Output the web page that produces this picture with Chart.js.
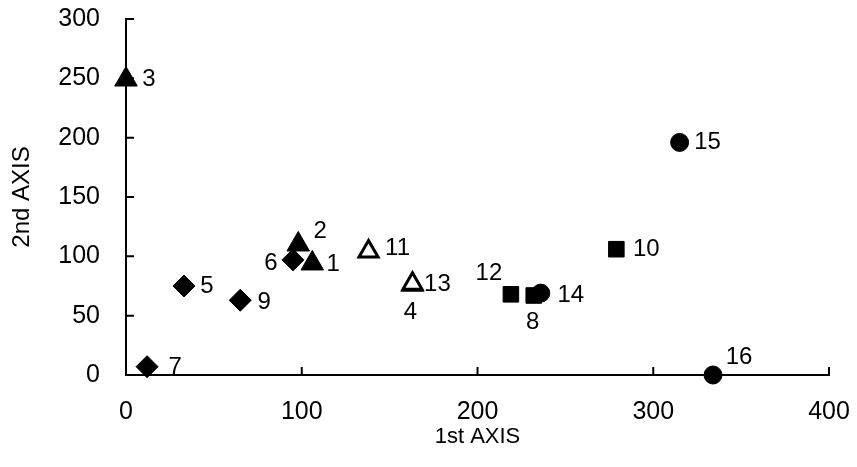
<!DOCTYPE html>
<html>
<head>
<meta charset="utf-8">
<script src="https://cdn.jsdelivr.net/npm/chart.js@4/dist/chart.umd.min.js"></script>
<style>
  html, body { margin: 0; padding: 0; background: #fff; }
  #wrap { width: 857px; height: 467px; }
</style>
</head>
<body>
<div id="wrap"><canvas id="scatterAxes"></canvas></div>
<script>
// sample numbers, 1st / 2nd axis scores, marker group
const pointIds = ['1', '2', '3', '4', '5', '6', '7', '8', '9', '10', '11', '12', '13', '14', '15', '16'];
const axis1 = [106, 98, 0, 163, 33, 95, 12, 232, 65, 279, 138, 219, 163, 236, 315, 334];
const axis2 = [94, 110, 249, 76, 75, 97, 7, 67, 63, 106, 104, 68, 77, 69, 196, 0];
const groupOf = ['triF', 'triF', 'triF', 'triO', 'dia', 'dia', 'dia', 'sq', 'dia', 'sq', 'triO', 'sq', 'triO', 'circ', 'circ', 'circ'];

const xTicks = [0, 100, 200, 300, 400];
const yTicks = [0, 50, 100, 150, 200, 250, 300];

// where each number sits relative to its marker
const labelOffsets = {
  '1': [21, 1], '2': [22, -13], '3': [23, 0], '4': [-2, 28], '5': [23, 0],
  '6': [-22, 3], '7': [28, 1], '8': [-1, 27], '9': [24, 2], '10': [30, 0],
  '11': [29, -3], '12': [-22, -21], '13': [25, 1], '14': [30, 2], '15': [28, 0],
  '16': [26, -18]
};

const styles = {
  triF: { pointStyle: 'triangle', radius: 13, fill: '#000', border: 1 },
  triO: { pointStyle: 'triangle', radius: 11, fill: '#fff', border: 3 },
  dia:  { pointStyle: 'rectRot', radius: 11, fill: '#000', border: 1 },
  sq:   { pointStyle: 'rect', radius: 11, fill: '#000', border: 1 },
  circ: { pointStyle: 'circle', radius: 9, fill: '#000', border: 1 }
};

let datasets = [];
Object.keys(styles).forEach(g => {
  let pts = [];
  pointIds.forEach((id, i) => {
    if (groupOf[i] === g) pts.push({ x: axis1[i], y: axis2[i], id: id });
  });
  const s = styles[g];
  datasets.push({
    label: g,
    data: pts,
    pointStyle: s.pointStyle,
    pointRadius: s.radius,
    pointBackgroundColor: s.fill,
    pointBorderColor: '#000',
    pointBorderWidth: s.border,
    clip: false
  });
});

const FONT = '"Liberation Sans", Arial, sans-serif';

// inward ticks + point numbers
const extras = {
  id: 'extras',
  afterDraw(chart) {
    const ctx = chart.ctx;
    const xs = chart.scales.x, ys = chart.scales.y;
    ctx.save();
    ctx.strokeStyle = '#000';
    ctx.lineWidth = 2;
    ctx.beginPath();
    yTicks.forEach(v => {
      const py = ys.getPixelForValue(v);
      ctx.moveTo(xs.left, py);
      ctx.lineTo(xs.left + 8, py);
    });
    xTicks.forEach(v => {
      const px = xs.getPixelForValue(v);
      ctx.moveTo(px, ys.bottom);
      ctx.lineTo(px, ys.bottom - 8);
    });
    ctx.stroke();

    ctx.fillStyle = '#000';
    ctx.font = '24px ' + FONT;
    ctx.textAlign = 'center';
    ctx.textBaseline = 'middle';
    chart.data.datasets.forEach((ds, di) => {
      const meta = chart.getDatasetMeta(di);
      ds.data.forEach((p, j) => {
        const el = meta.data[j];
        const off = labelOffsets[p.id];
        ctx.fillText(p.id, el.x + off[0], el.y + off[1]);
      });
    });
    ctx.restore();
  }
};

new Chart(document.getElementById('scatterAxes'), {
  type: 'scatter',
  data: { datasets: datasets },
  options: {
    responsive: true,
    maintainAspectRatio: false,
    animation: false,
    layout: { padding: { left: 0, right: 28, top: 19, bottom: 0 } },
    plugins: {
      legend: { display: false },
      tooltip: { enabled: false }
    },
    scales: {
      x: {
        type: 'linear',
        min: 0,
        max: 400,
        afterBuildTicks: s => { s.ticks = xTicks.map(v => ({ value: v })); },
        afterFit: s => { s.height = 92; s.paddingLeft = 0; s.paddingRight = 0; },
        grid: { display: false },
        border: { display: true, color: '#000', width: 2 },
        ticks: { color: '#000', padding: 14, font: { family: FONT, size: 25 } },
        title: { display: true, text: '1st AXIS', color: '#000', padding: 17, font: { family: FONT, size: 22 } }
      },
      y: {
        type: 'linear',
        min: 0,
        max: 300,
        afterBuildTicks: s => { s.ticks = yTicks.map(v => ({ value: v })); },
        afterFit: s => { s.width = 126; s.paddingTop = 0; s.paddingBottom = 0; },
        grid: { display: false },
        border: { display: true, color: '#000', width: 2 },
        ticks: { color: '#000', padding: 18, font: { family: FONT, size: 25 } },
        title: { display: true, text: '2nd AXIS', color: '#000', padding: 8, font: { family: FONT, size: 24 } }
      }
    }
  },
  plugins: [extras]
});
</script>
</body>
</html>
